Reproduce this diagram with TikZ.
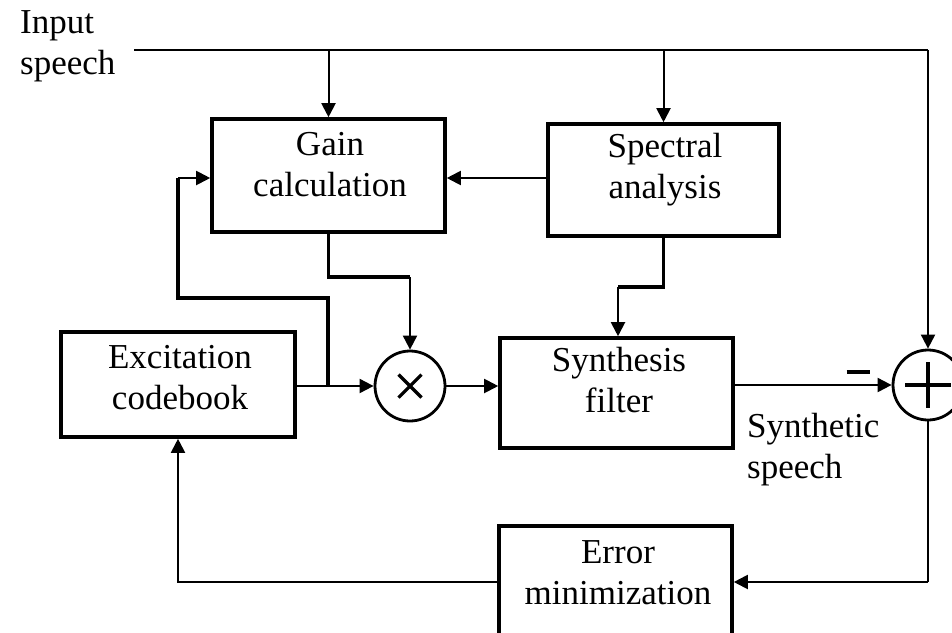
\documentclass[tikz,border=0pt]{standalone}
\usepackage{fontspec}
\setmainfont{Liberation Serif}
\usetikzlibrary{arrows.meta,calc}
\newcommand\twol[3][c]{\begin{tabular}[t]{@{}#1@{}}#2\\#3\end{tabular}}
\begin{document}
\begin{tikzpicture}[x=1pt,y=-1pt,
 box/.style={draw, line width=3.6pt, inner sep=0pt},
 txt/.style={anchor=base, inner sep=0pt, font=\fontsize{35}{41}\selectfont},
 con/.style={line width=2pt},
 thk/.style={line width=3.2pt, line join=miter},
 tip/.style={-{Triangle[length=14pt,width=14pt]}},
 sign/.style={line width=3.2pt},
 sum/.style={draw, circle, line width=2.8pt, minimum size=70pt, inner sep=0pt}]
\useasboundingbox (0,0) rectangle (952,632);
\clip (0,0) rectangle (952,632);

% boxes
\node[box, minimum width=233pt, minimum height=113pt] (gain) at (328.5,175.5) {};
\node[box, minimum width=231pt, minimum height=112pt] (spec) at (663.5,180) {};
\node[box, minimum width=234pt, minimum height=105pt] (exc) at (178,384.5) {};
\node[box, minimum width=233pt, minimum height=110pt] (syn) at (616.5,393) {};
\node[box, minimum width=233pt, minimum height=116pt] (err) at (615.5,584) {};

% texts
\node[txt] (gaint) at (330,155) {\twol{Gain}{calculation}};
\node[txt] (spect) at (665,157) {\twol{Spectral}{analysis}};
\node[txt] (exct) at (180,368) {\twol{Excitation}{codebook}};
\node[txt] (synt) at (619,371) {\twol{Synthesis}{filter}};
\node[txt] (errt) at (618,563) {\twol{Error}{minimization}};
\node[txt, anchor=base west] (inpt) at (20,33) {\twol[l]{Input}{speech}};
\node[txt, anchor=base west] (synsp) at (747,437) {\twol[l]{Synthetic}{speech}};

% summing junctions
\node[sum] (times) at (410,386) {};
\draw[sign] ($(times.center)+(-11.5,-11.5)$) -- ($(times.center)+(11.5,11.5)$);
\draw[sign] ($(times.center)+(-11.5,11.5)$) -- ($(times.center)+(11.5,-11.5)$);
\node[sum] (plus) at (928,385) {};
\draw[sign] ($(plus.center)+(-23,0)$) -- ($(plus.center)+(23,0)$);
\draw[sign] ($(plus.center)+(0,-23)$) -- ($(plus.center)+(0,23)$);
% minus sign
\coordinate (mn) at (858,372);
\draw[line width=3.4pt] ($(mn)+(-11.5,0)$) -- ($(mn)+(11.5,0)$);

% coordinates
\coordinate (inl) at (134,50);
\coordinate (jn) at (328,386);
\coordinate (fb) at (178,298);
\coordinate (gc) at (410,277);
\coordinate (sc) at (618,287);

% input line
\draw[line width=2.8pt] (inl) -- (plus.north |- inl);
\draw[con, tip] (plus.north |- inl) -- (plus.north);
\draw[con, tip] (gain.north |- inl) -- (gain.north);
\draw[con, tip] (spec.north |- inl) -- (spec.north);

% spectral -> gain
\draw[con, tip] (spec.west |- 0,178) -- (gain.east |- 0,178);

% gain -> times
\draw[thk] (gain.south) -- (gain.south |- gc) -- (gc);
\draw[con, tip] (gc) -- (times.north);

% spectral -> synthesis
\draw[thk] (spec.south) -- (spec.south |- sc) -- (sc);
\draw[con, tip] (sc) -- (syn.north -| sc);

% excitation -> times
\draw[con, tip] (exc.east |- jn) -- (times.west);

% feedback to gain
\draw[thk] (jn) -- (328,298) -- (fb) -- (178,178);
\draw[con, tip] (178,178) -- (gain.west |- 0,178);

% times -> synthesis
\draw[con, tip] (times.east) -- (syn.west |- times.east);

% synthesis -> plus
\draw[con, tip] (syn.east |- plus.west) -- (plus.west);

% plus -> error
\draw[line width=2.6pt] (plus.south) -- (928,582);
\draw[con, tip] (928,582) -- (err.east |- 0,582);

% error -> excitation
\draw[line width=2.6pt] (err.west |- 0,582) -- (178,582) -- (178,470);
\draw[con, tip] (178,470) -- (exc.south);
\end{tikzpicture}
\end{document}
